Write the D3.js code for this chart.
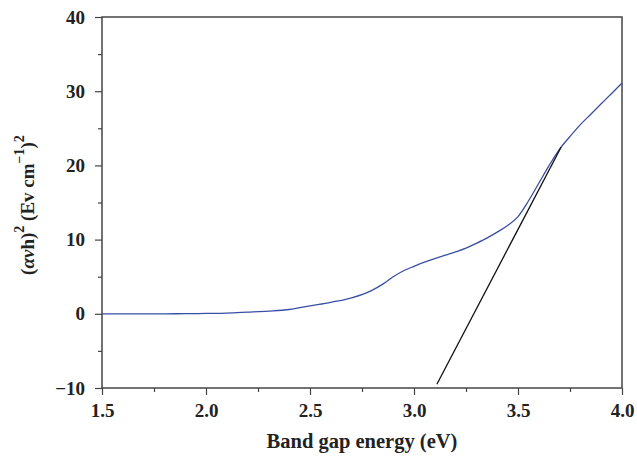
<!DOCTYPE html>
<meta charset="utf-8">
<script src="https://d3js.org/d3.v7.min.js"></script>
<style>
  body { margin: 0; background: #fff; }
  text { font-family: "Liberation Serif", "DejaVu Serif", serif; font-weight: bold; fill: #222; }
</style>
<div id="chart"></div>
<script>

// absorption curve
var energy = [1.5, 1.6, 1.7, 1.8, 1.9, 2.0, 2.1, 2.2, 2.3, 2.4, 2.5, 2.6, 2.7, 2.8, 2.85, 2.9, 2.95, 3.0,
              3.05, 3.1, 3.15, 3.2, 3.25, 3.3, 3.35, 3.4, 3.45, 3.5, 3.55, 3.6, 3.65, 3.7, 3.75, 3.8,
              3.85, 3.9, 3.95, 4.0];
var absorb = [0, 0, 0, 0, 0.02, 0.05, 0.1, 0.23, 0.37, 0.58, 1.07, 1.55, 2.15, 3.2, 4.0, 5.0, 5.8, 6.4,
              6.95, 7.45, 7.9, 8.35, 8.85, 9.5, 10.2, 11.0, 11.9, 13.1, 15.2, 17.6, 20.0, 22.2, 23.9, 25.5,
              26.9, 28.3, 29.7, 31.1];

// tangent (linear fit) end points
var fitX = [3.11, 3.707];
var fitY = [-9.5, 22.45];

var xTicks = [1.5, 2.0, 2.5, 3.0, 3.5, 4.0];
var yTicks = [-10, 0, 10, 20, 30, 40];

var margin = {top: 17, right: 15, bottom: 70, left: 102},
    width = 637 - margin.left - margin.right,
    height = 458 - margin.top - margin.bottom;

var svg = d3.select("#chart")
  .append("svg")
    .attr("width", 637)
    .attr("height", 458)
  .append("g")
    .attr("transform", "translate(" + margin.left + "," + margin.top + ")");

var x = d3.scaleLinear().domain([1.5, 4.0]).range([0, width]);
var y = d3.scaleLinear().domain([-10, 40]).range([height, 0]);

var axisColor = "#444";

// minor ticks
svg.append("g")
  .attr("transform", "translate(0," + height + ")")
  .call(d3.axisBottom(x).tickValues(d3.range(1.75, 4.0, 0.5)).tickSize(4).tickFormat(""))
  .call(function(g) { g.select(".domain").remove(); g.selectAll("line").attr("stroke", axisColor).attr("stroke-width", 1.2); });
svg.append("g")
  .call(d3.axisLeft(y).tickValues(d3.range(-5, 40, 10)).tickSize(4).tickFormat(""))
  .call(function(g) { g.select(".domain").remove(); g.selectAll("line").attr("stroke", axisColor).attr("stroke-width", 1.2); });

// major ticks + labels
var xAxis = svg.append("g")
  .attr("transform", "translate(0," + height + ")")
  .call(d3.axisBottom(x).tickValues(xTicks).tickSize(7).tickPadding(9).tickFormat(d3.format(".1f")));
var yAxis = svg.append("g")
  .call(d3.axisLeft(y).tickValues(yTicks).tickSize(7).tickPadding(10).tickFormat(function(d) { return d < 0 ? "\u2212" + Math.abs(d) : d; }));

[xAxis, yAxis].forEach(function(g) {
  g.select(".domain").remove();
  g.selectAll("line").attr("stroke", axisColor).attr("stroke-width", 1.2);
  g.selectAll("text").style("font-size", "19px").attr("fill", "#222");
});

// frame
svg.append("rect")
  .attr("width", width)
  .attr("height", height)
  .attr("fill", "none")
  .attr("stroke", axisColor)
  .attr("stroke-width", 1.5);

// curve
var line = d3.line()
  .x(function(d, i) { return x(energy[i]); })
  .y(function(d, i) { return y(absorb[i]); })
  .curve(d3.curveMonotoneX);

svg.append("path")
  .datum(absorb)
  .attr("d", line)
  .attr("fill", "none")
  .attr("stroke", "#3a4ea6")
  .attr("stroke-width", 1.3);

// fit line
svg.append("line")
  .attr("x1", x(fitX[0])).attr("y1", y(fitY[0]))
  .attr("x2", x(fitX[1])).attr("y2", y(fitY[1]))
  .attr("stroke", "#111")
  .attr("stroke-width", 1.3);

// axis titles
svg.append("text")
  .attr("text-anchor", "middle")
  .attr("x", width / 2)
  .attr("y", height + 60)
  .style("font-size", "20.5px")
  .text("Band gap energy (eV)");

var yl = svg.append("text")
  .attr("text-anchor", "middle")
  .attr("transform", "translate(-68," + (205 - margin.top) + ") rotate(-90)")
  .style("font-size", "19px");
yl.append("tspan").text("(");
yl.append("tspan").style("font-style", "italic").text("\u03b1\u03bd");
yl.append("tspan").text("h)");
yl.append("tspan").attr("dy", -10).style("font-size", "14px").text("2");
yl.append("tspan").attr("dy", 10).text(" (Ev cm");
yl.append("tspan").attr("dy", -10).style("font-size", "14px").text("\u22121");
yl.append("tspan").attr("dy", 10).text(")");
yl.append("tspan").attr("dy", -10).style("font-size", "14px").text("2");

</script>
